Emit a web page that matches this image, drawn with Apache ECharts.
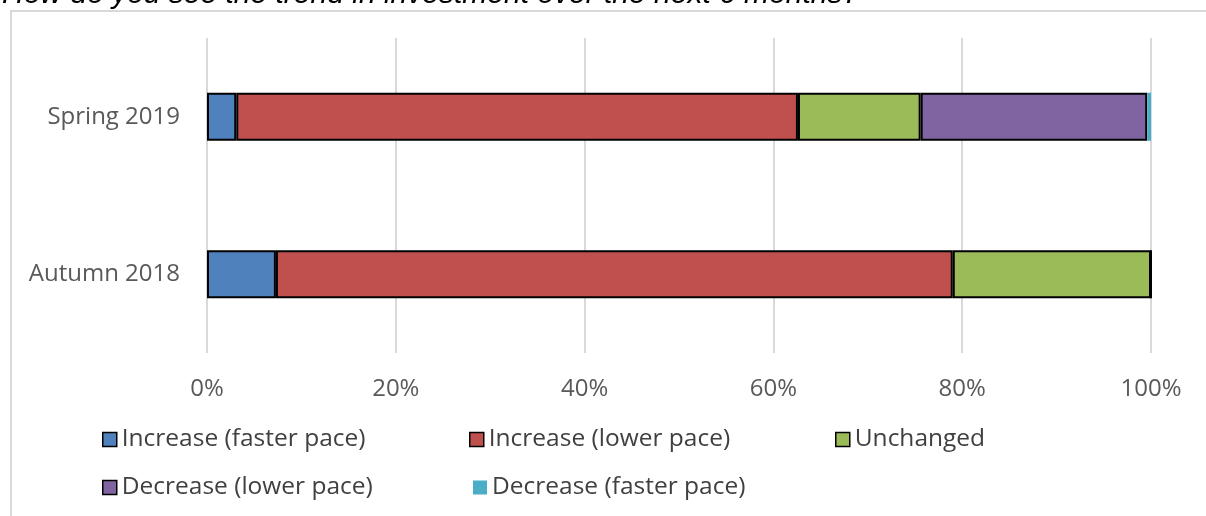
<!DOCTYPE html>
<html>
<head>
<meta charset="utf-8">
<script src="https://cdn.jsdelivr.net/npm/echarts@6/dist/echarts.min.js"></script>
<style>
  html, body { margin: 0; padding: 0; background: #fff; }
  #main { width: 1206px; height: 516px; }
</style>
</head>
<body>
<div id="main"></div>
<script>
// 数据
var categories = ['Autumn 2018', 'Spring 2019'];
var seriesNames = ['Increase (faster pace)', 'Increase (lower pace)', 'Unchanged', 'Decrease (lower pace)', 'Decrease (faster pace)'];
var incFaster = [7.3, 3.1];
var incLower = [71.7, 59.5];
var unchanged = [21.0, 13.0];
var decLower = [0, 24.0];
var decFaster = [0, 0.4];
var xTicks = [0, 20, 40, 60, 80, 100];

var colors = ['#4f81bd', '#c0504d', '#9bbb59', '#8064a2', '#4bacc6'];
var values = [incFaster, incLower, unchanged, decLower, decFaster];
var fontMain = '"Open Sans", "Noto Sans", sans-serif';

var myChart = echarts.init(document.getElementById('main'));

// 柱子
var series = [];
for (var i = 0; i < seriesNames.length; i++) {
  var bordered = i < 4;
  series.push({
    name: seriesNames[i],
    type: 'bar',
    stack: 'total',
    barWidth: 48,
    data: values[i],
    itemStyle: {
      color: colors[i],
      borderColor: bordered ? '#000' : colors[i],
      borderWidth: bordered ? 2 : 0
    },
    emphasis: { disabled: true }
  });
}

// 图例：两行，手动定位
var legendPos = [[97, 422], [464, 422], [830, 422], [97, 470], [468, 470]];
var legends = [];
for (var j = 0; j < seriesNames.length; j++) {
  legends.push({
    data: [{
      name: seriesNames[j],
      itemStyle: {
        color: colors[j],
        borderColor: j < 4 ? '#000' : colors[j],
        borderWidth: j < 4 ? 1.5 : 0
      }
    }],
    left: legendPos[j][0],
    top: legendPos[j][1],
    itemWidth: 14,
    itemHeight: 14,
    itemGap: 6,
    icon: 'rect',
    selectedMode: false,
    textStyle: { fontSize: 24.5, color: '#404040', fontFamily: fontMain }
  });
}

var option = {
  animation: false,
  title: {
    text: 'How do you see the trend in investment over the next 6 months?',
    left: -3,
    top: -25,
    textStyle: {
      fontFamily: '"Liberation Sans", Arial, sans-serif',
      fontStyle: 'italic',
      fontWeight: 'normal',
      fontSize: 30,
      color: '#000'
    }
  },
  graphic: [{
    type: 'rect',
    shape: { x: 11, y: 11, width: 1220, height: 540 },
    style: { fill: 'none', stroke: '#d9d9d9', lineWidth: 2 },
    silent: true,
    z: -1
  }],
  legend: legends,
  grid: { left: 207, right: 55, top: 38, bottom: 163 },
  xAxis: {
    type: 'value',
    min: 0,
    max: 100,
    interval: 20,
    axisLine: { show: false },
    axisTick: { show: false },
    splitLine: { lineStyle: { color: '#d9d9d9', width: 2 } },
    axisLabel: {
      formatter: function (v) { return xTicks.indexOf(v) >= 0 ? v + '%' : ''; },
      fontSize: 24,
      color: '#595959',
      fontFamily: fontMain,
      margin: 24
    }
  },
  yAxis: {
    type: 'category',
    data: categories,
    axisLine: { show: false },
    axisTick: { show: false },
    axisLabel: {
      fontSize: 24,
      color: '#595959',
      fontFamily: fontMain,
      margin: 27
    }
  },
  series: series
};
myChart.setOption(option);
</script>
</body>
</html>
